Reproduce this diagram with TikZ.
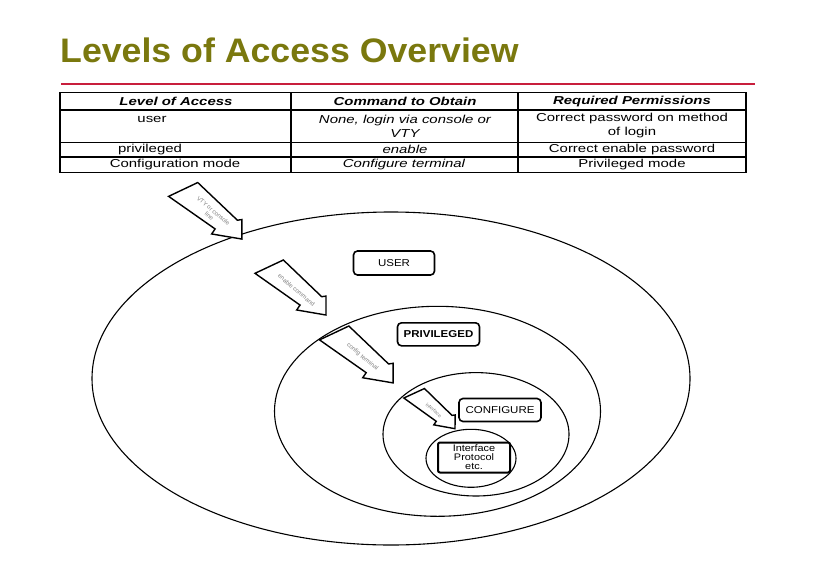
\documentclass[tikz,border=0pt]{standalone}
\usepackage{fontspec}
\setmainfont{Liberation Sans}
\newfontfamily\titlefont[FakeStretch=1.05]{Liberation Sans}
\newfontfamily\tabfont[FakeStretch=1.3]{Liberation Sans}
\newfontfamily\boxfont[FakeStretch=1.15]{Liberation Sans}
\definecolor{titleolive}{RGB}{122,120,14}
\definecolor{rulered}{RGB}{200,30,60}
\tikzset{
  cell/.style={font=\tabfont\fontsize{11.5}{14}\selectfont, align=center, inner sep=0pt},
  cellit/.style={cell, font=\tabfont\fontsize{11.5}{14}\selectfont\itshape},
  headcell/.style={cell, font=\tabfont\fontsize{11.5}{12}\selectfont\bfseries\itshape},
  levelbox/.style={draw, fill=white, line width=1.6pt, rounded corners=4pt, minimum width=81pt,
    minimum height=24pt, inner sep=0pt, font=\boxfont\fontsize{10}{10}\selectfont},
  arrowtext/.style={text=gray, font=\fontsize{6}{6.5}\selectfont, align=center, inner sep=0pt}
}
% block arrow: tail middle, angle, scale, text
\newcommand{\levelarrow}[4]{%
  \begin{scope}[shift={#1},rotate=#2,scale=#3]
    \filldraw[fill=white,line width=1.4pt,line join=miter]
      (-6.4,14.1) -- (6.6,-14.4) -- (59.6,-11.2) -- (62.5,-14.5) -- (74.7,0)
      -- (49.1,15.1) -- (48.5,9.2) -- cycle;
    \node[arrowtext,rotate=#2] at (36,0) {#4};
  \end{scope}}
\begin{document}
\begin{tikzpicture}[x=1pt,y=-1pt]
\fill[white] (0,0) rectangle (818,578);
\useasboundingbox (0,0) rectangle (818,578);
% title
\node[anchor=base west, text=titleolive, inner sep=0pt,
  font=\titlefont\fontsize{34}{34}\selectfont\bfseries] (title) at (60,62.7) {Levels of Access Overview};
\draw[rulered, line width=2pt] (61,84.3) -- (755,84.3);
% table
\draw[line width=1.2pt] (60,92.5) rectangle (746,172.3);
\draw[line width=1.1pt] (60,110) -- (746,110) (60,142.3) -- (746,142.3) (60,157) -- (746,157);
\draw[line width=1.1pt] (291,92.5) -- (291,172.3) (518,92.5) -- (518,172.3);
\node[headcell] (hlevel) at (176,101.5) {Level of Access};
\node[headcell] (hcmd) at (405,101.5) {Command to Obtain};
\node[headcell] (hperm) at (632,101.5) {Required Permissions};
\node[cell] (user) at (152,119) {user};
\node[cellit] (usercmd) at (405,126) {None, login via console or\\VTY};
\node[cell] (userperm) at (632,126) {Correct password on method\\of login};
\node[cell] (priv) at (150,149.8) {privileged};
\node[cellit] (privcmd) at (405,149.8) {enable};
\node[cell] (privperm) at (632,149.8) {Correct enable password};
\node[cell] (conf) at (175,164.8) {Configuration mode};
\node[cellit] (confcmd) at (404,164.8) {Configure terminal};
\node[cell] (confperm) at (632,164.8) {Privileged mode};
% levels
\draw[line width=1.1pt] (391,378.5) ellipse [x radius=299, y radius=166.5];
\draw[line width=1.1pt] (437.5,411.3) ellipse [x radius=163, y radius=105];
\draw[line width=1.1pt] (476,434.3) ellipse [x radius=93, y radius=61.7];
\draw[line width=1.1pt] (471,458.3) ellipse [x radius=45, y radius=29];
\node[levelbox] (userbox) at (394,263) {USER};
\node[levelbox, minimum width=82pt, minimum height=23pt, font=\boxfont\fontsize{10}{10}\selectfont\bfseries] (privbox) at (438.5,334.3) {PRIVILEGED};
\node[levelbox, minimum width=82pt, minimum height=23pt] (confbox) at (500,410) {CONFIGURE};
\node[levelbox, align=center, minimum width=72pt, minimum height=30pt, line width=2pt, rounded corners=2pt,
  font=\boxfont\fontsize{9.5}{9}\selectfont] (intbox) at (474,457.5) {Interface\\Protocol\\etc.};
% arrows
\levelarrow{(183,189.5)}{-40.1}{1.03}{VTY or console\\line}
\levelarrow{(269,266.7)}{-40.3}{1}{enable command}
\levelarrow{(334,333)}{-40.2}{1.035}{config terminal}
\levelarrow{(414,393.3)}{-40.8}{0.725}{\fontsize{5}{5}\selectfont interface}
\end{tikzpicture}
\end{document}
